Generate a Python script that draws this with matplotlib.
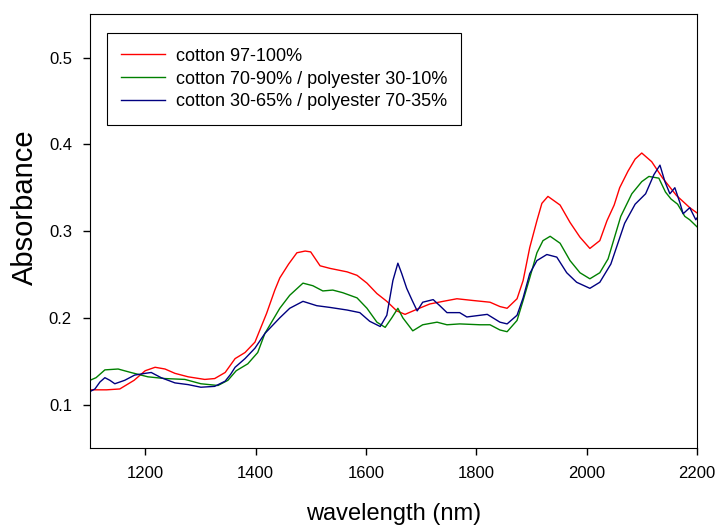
import matplotlib
matplotlib.use("Agg")
import matplotlib.pyplot as plt

plt.rcParams['font.family'] = ['Liberation Sans', 'DejaVu Sans']

# cotton 97-100%
red_x = [1100, 1130, 1154, 1180, 1200, 1218, 1236, 1254, 1278, 1308, 1326, 1345, 1363, 1381, 1399,
         1420, 1435, 1444, 1460, 1475, 1490, 1500, 1517, 1535, 1566, 1584, 1602, 1620, 1638, 1656,
         1671, 1693, 1716, 1740, 1765, 1794, 1825, 1843, 1856, 1874, 1885, 1897, 1910, 1919, 1930,
         1952, 1970, 1988, 2006, 2024, 2037, 2050, 2060, 2075, 2088, 2100, 2118, 2138, 2163, 2187, 2200]
red_y = [0.117, 0.117, 0.118, 0.128, 0.139, 0.143, 0.141, 0.136, 0.132, 0.129, 0.130, 0.137, 0.153, 0.160, 0.172,
         0.205, 0.232, 0.246, 0.262, 0.275, 0.277, 0.276, 0.260, 0.257, 0.253, 0.249, 0.240, 0.228, 0.219, 0.208,
         0.204, 0.210, 0.216, 0.219, 0.222, 0.220, 0.218, 0.213, 0.211, 0.222, 0.243, 0.281, 0.312, 0.332, 0.340,
         0.330, 0.310, 0.293, 0.280, 0.289, 0.312, 0.330, 0.350, 0.369, 0.383, 0.390, 0.380, 0.361, 0.341, 0.327, 0.321]

# cotton 70-90% / polyester 30-10%
green_x = [1100, 1111, 1127, 1151, 1174, 1205, 1236, 1272, 1301, 1332, 1350, 1365, 1386, 1404, 1417,
           1444, 1462, 1486, 1504, 1522, 1540, 1558, 1584, 1602, 1620, 1635, 1647, 1658, 1667, 1685,
           1703, 1729, 1747, 1770, 1807, 1825, 1843, 1856, 1874, 1885, 1897, 1910, 1921, 1934, 1952,
           1970, 1988, 2006, 2024, 2039, 2062, 2082, 2100, 2113, 2131, 2143, 2153, 2165, 2178, 2187, 2200]
green_y = [0.128, 0.131, 0.140, 0.141, 0.137, 0.132, 0.130, 0.129, 0.124, 0.122, 0.128, 0.139, 0.147, 0.160, 0.182,
           0.211, 0.226, 0.240, 0.237, 0.231, 0.232, 0.229, 0.223, 0.211, 0.195, 0.189, 0.200, 0.211, 0.200, 0.185,
           0.192, 0.195, 0.192, 0.193, 0.192, 0.192, 0.186, 0.184, 0.197, 0.220, 0.246, 0.275, 0.289, 0.294, 0.286,
           0.266, 0.252, 0.245, 0.252, 0.268, 0.317, 0.343, 0.357, 0.363, 0.361, 0.345, 0.337, 0.331, 0.317, 0.313, 0.305]

# cotton 30-65% / polyester 70-35%
blue_x = [1100, 1109, 1118, 1127, 1136, 1145, 1163, 1181, 1200, 1211, 1229, 1254, 1278, 1301, 1326,
          1345, 1355, 1363, 1381, 1399, 1417, 1444, 1462, 1486, 1511, 1535, 1566, 1589, 1607, 1626,
          1638, 1649, 1658, 1665, 1674, 1684, 1693, 1703, 1722, 1734, 1747, 1770, 1783, 1820, 1843,
          1856, 1874, 1885, 1897, 1910, 1928, 1946, 1964, 1982, 2006, 2024, 2044, 2069, 2088, 2107,
          2122, 2133, 2142, 2151, 2160, 2169, 2175, 2187, 2198, 2200]
blue_y = [0.115, 0.118, 0.126, 0.131, 0.128, 0.124, 0.128, 0.134, 0.136, 0.137, 0.131, 0.125, 0.123, 0.120, 0.121,
          0.127, 0.135, 0.143, 0.153, 0.165, 0.182, 0.200, 0.211, 0.219, 0.214, 0.212, 0.209, 0.206, 0.196, 0.190,
          0.203, 0.243, 0.263, 0.251, 0.234, 0.220, 0.208, 0.218, 0.221, 0.214, 0.206, 0.206, 0.201, 0.204, 0.195,
          0.193, 0.203, 0.223, 0.251, 0.266, 0.273, 0.270, 0.252, 0.241, 0.234, 0.241, 0.262, 0.309, 0.331, 0.343,
          0.365, 0.376, 0.357, 0.343, 0.350, 0.333, 0.320, 0.327, 0.313, 0.315]

labels = ['cotton 97-100%', 'cotton 70-90% / polyester 30-10%', 'cotton 30-65% / polyester 70-35%']
colors = ['#ff0000', '#008000', '#000080']

fig = plt.figure(figsize=(7.17, 5.27), dpi=100)
ax = fig.add_axes([0.1255, 0.150, 0.8465, 0.823])

ax.plot(red_x, red_y, color=colors[0], lw=1.0, label=labels[0])
ax.plot(green_x, green_y, color=colors[1], lw=1.0, label=labels[1])
ax.plot(blue_x, blue_y, color=colors[2], lw=1.0, label=labels[2])

ax.set_xlim(1100, 2200)
ax.set_ylim(0.05, 0.55)
ax.set_xticks([1200, 1400, 1600, 1800, 2000, 2200])
ax.set_yticks([0.1, 0.2, 0.3, 0.4, 0.5])
ax.tick_params(direction='out', length=5, width=1, labelsize=12, pad=8)
ax.set_xlabel('wavelength (nm)', fontsize=17, labelpad=16)
ax.set_ylabel('Absorbance', fontsize=21)
ax.yaxis.set_label_coords(-0.084, 0.555)

leg = ax.legend(loc='upper left', bbox_to_anchor=(0.028, 0.956), fontsize=13,
                frameon=True, fancybox=False, edgecolor='black', framealpha=1,
                borderaxespad=0, handlelength=2.4, labelspacing=0.32,
                borderpad=0.8, handletextpad=0.6)
leg.get_frame().set_linewidth(0.8)

fig.savefig('out.png', dpi=100)
